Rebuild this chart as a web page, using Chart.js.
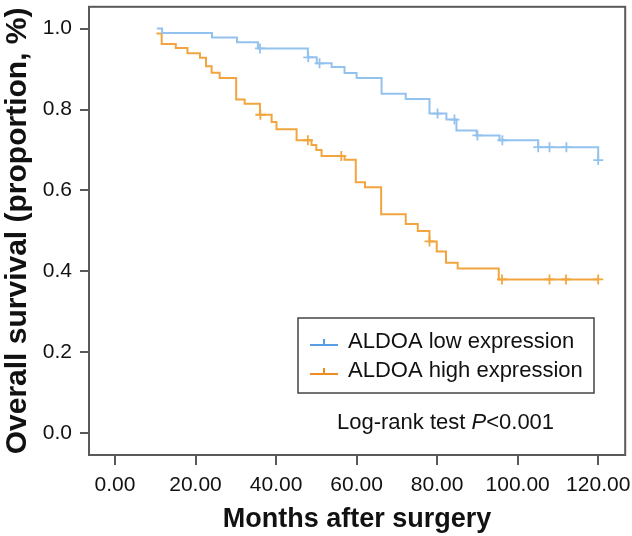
<!DOCTYPE html>
<html lang="en">
<head>
<meta charset="UTF-8">
<title>Overall survival by ALDOA expression</title>
<script src="https://cdn.jsdelivr.net/npm/chart.js"></script>
<style>
  body { margin: 0; background: #fff; }
  #wrap { width: 632px; height: 536px; }
</style>
</head>
<body>
<div id="wrap"><canvas id="kmChart" width="632" height="536"></canvas></div>
<script>
// Kaplan-Meier steps (months, proportion surviving)
const lowTimes = [10.4, 11.7, 24.1, 30.3, 35.5, 47.9, 50.1, 53.8, 57.0, 60.0, 66.2, 72.2, 78.1, 82.3, 84.8, 89.8, 95.5, 105.1, 120.0];
const lowSurv  = [1.000, 0.989, 0.978, 0.966, 0.951, 0.929, 0.914, 0.905, 0.890, 0.878, 0.839, 0.826, 0.790, 0.775, 0.748, 0.736, 0.724, 0.707, 0.675];
const lowCensorTimes = [36.0, 48.0, 50.8, 80.1, 84.3, 90.0, 96.2, 105.1, 107.9, 112.1, 120.0];
const lowCensorSurv  = [0.951, 0.929, 0.914, 0.790, 0.775, 0.736, 0.724, 0.707, 0.707, 0.707, 0.675];

const highTimes = [10.3, 11.6, 15.1, 18.0, 21.1, 22.6, 24.0, 26.0, 30.1, 32.2, 36.0, 38.9, 40.1, 45.1, 48.8, 50.0, 51.3, 57.0, 59.8, 62.1, 66.1, 72.2, 75.2, 78.1, 79.9, 82.2, 85.1, 95.3, 120.0];
const highSurv  = [0.988, 0.962, 0.952, 0.939, 0.928, 0.907, 0.891, 0.878, 0.825, 0.814, 0.787, 0.769, 0.751, 0.724, 0.712, 0.700, 0.685, 0.676, 0.620, 0.608, 0.541, 0.517, 0.500, 0.474, 0.449, 0.421, 0.407, 0.380, 0.380];
const highCensorTimes = [36.1, 47.9, 56.2, 78.1, 96.1, 107.9, 112.0, 120.0];
const highCensorSurv  = [0.787, 0.724, 0.685, 0.474, 0.380, 0.380, 0.380, 0.380];

const seriesLabels = ['ALDOA low expression', 'ALDOA high expression'];
const xTicks = [0, 20, 40, 60, 80, 100, 120];
const yTicks = [0, 0.2, 0.4, 0.6, 0.8, 1.0];

const FONT = "'Liberation Sans', Arial, sans-serif";
const lowLine = '#93c2ee', highLine = '#f2a53e';
const lowKey = '#5a9fe4', highKey = '#ef8c24';
const axisGrey = '#595959';

function pts(xs, ys) { return xs.map((x, i) => ({ x: x, y: ys[i] })); }

// frame round the plot, legend box and the log-rank note
const extras = {
  id: 'extras',
  afterDraw(chart) {
    const ctx = chart.ctx, a = chart.chartArea;
    ctx.save();
    ctx.strokeStyle = axisGrey;
    ctx.lineWidth = 2;
    ctx.strokeRect(a.left, a.top, a.right - a.left, a.bottom - a.top);

    // legend
    ctx.strokeStyle = '#444';
    ctx.lineWidth = 1.5;
    ctx.strokeRect(298, 318, 296, 75);
    const keys = [lowKey, highKey];
    ctx.font = '22px ' + FONT;
    ctx.textBaseline = 'middle';
    ctx.fillStyle = '#111';
    seriesLabels.forEach((lab, i) => {
      const cy = 342 + i * 29;
      ctx.strokeStyle = keys[i];
      ctx.lineWidth = 2;
      ctx.beginPath();
      ctx.moveTo(310, cy + 3); ctx.lineTo(338, cy + 3);
      ctx.moveTo(324, cy + 3); ctx.lineTo(324, cy - 3);
      ctx.stroke();
      ctx.fillText(lab, 348, cy);
    });

    // log-rank text, P in italics
    let x = 337, y = 423;
    const part1 = 'Log-rank test ', part2 = 'P', part3 = '<0.001';
    ctx.font = '22px ' + FONT;
    ctx.fillText(part1, x, y); x += ctx.measureText(part1).width;
    ctx.font = 'italic 22px ' + FONT;
    ctx.fillText(part2, x, y); x += ctx.measureText(part2).width;
    ctx.font = '22px ' + FONT;
    ctx.fillText(part3, x, y);
    ctx.restore();
  }
};

new Chart(document.getElementById('kmChart'), {
  type: 'line',
  data: {
    datasets: [
      { label: seriesLabels[0], data: pts(lowTimes, lowSurv), stepped: true, borderColor: lowLine, borderWidth: 2, pointRadius: 0, fill: false },
      { label: seriesLabels[1], data: pts(highTimes, highSurv), stepped: true, borderColor: highLine, borderWidth: 2, pointRadius: 0, fill: false },
      { label: 'low censored', data: pts(lowCensorTimes, lowCensorSurv), showLine: false, pointStyle: 'cross', pointRadius: 5, borderColor: lowLine, borderWidth: 1.8 },
      { label: 'high censored', data: pts(highCensorTimes, highCensorSurv), showLine: false, pointStyle: 'cross', pointRadius: 5, borderColor: highLine, borderWidth: 1.8 }
    ]
  },
  options: {
    responsive: false,
    animation: false,
    layout: { padding: { top: 2, right: 6, bottom: 0, left: 0 } },
    plugins: { legend: { display: false }, tooltip: { enabled: false } },
    scales: {
      x: {
        type: 'linear',
        min: -6.45,
        max: 126.7,
        afterBuildTicks: s => { s.ticks = xTicks.map(v => ({ value: v })); },
        afterFit: s => { s.height = 81; s.paddingLeft = 0; s.paddingRight = 0; },
        ticks: { callback: v => v.toFixed(2), font: { size: 21, family: FONT }, color: '#111', padding: 8, maxRotation: 0, autoSkip: false },
        grid: { drawOnChartArea: false, tickLength: 10, color: axisGrey, lineWidth: 2 },
        border: { display: false },
        title: { display: true, text: 'Months after surgery', color: '#111', font: { size: 27, weight: 'bold', family: FONT }, padding: { top: 4, bottom: 0 } }
      },
      y: {
        type: 'linear',
        min: -0.0538,
        max: 1.0538,
        afterBuildTicks: s => { s.ticks = yTicks.map(v => ({ value: v })); },
        afterFit: s => { s.width = 89; s.paddingTop = 0; s.paddingBottom = 0; },
        ticks: { callback: v => v.toFixed(1), font: { size: 21, family: FONT }, color: '#111', padding: 8 },
        grid: { drawOnChartArea: false, tickLength: 9, color: axisGrey, lineWidth: 2 },
        border: { display: false },
        title: { display: true, text: 'Overall survival (proportion, %)', color: '#111', font: { size: 30, weight: 'bold', family: FONT }, padding: { top: 0, bottom: 0 } }
      }
    }
  },
  plugins: [extras]
});
</script>
</body>
</html>
